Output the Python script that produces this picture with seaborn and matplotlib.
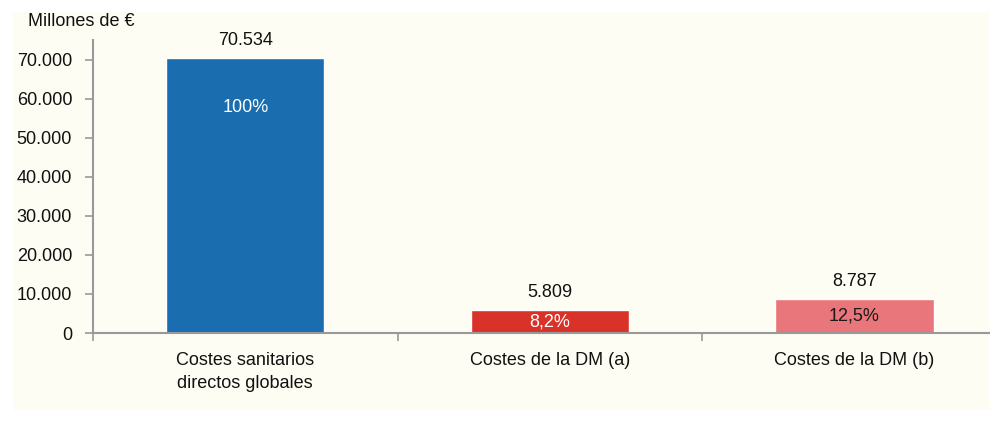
import pandas as pd
import seaborn as sns
import matplotlib.pyplot as plt
from matplotlib.patches import Rectangle

categories = ['Costes sanitarios\ndirectos globales', 'Costes de la DM (a)', 'Costes de la DM (b)']
values = [70534, 5809, 8787]
value_labels = ['70.534', '5.809', '8.787']
pct_labels = ['100%', '8,2%', '12,5%']
pct_colors = ['white', 'white', '#1a1a1a']
bar_colors = ['#1A6DAF', '#D93228', '#E8767A']
yticks = [0, 10000, 20000, 30000, 40000, 50000, 60000, 70000]
ytick_labels = ['0', '10.000', '20.000', '30.000', '40.000', '50.000', '60.000', '70.000']

bg = '#FEFDF3'
fs = 13
sns.set_style('white')
plt.rcParams['font.family'] = ['Liberation Sans', 'DejaVu Sans']

df = pd.DataFrame({'cat': categories, 'value': values})

fig = plt.figure(figsize=(9.9, 4.22), dpi=100)
fig.patch.set_facecolor('white')
fig.patches.append(Rectangle((13 / 990, 12 / 422), 977 / 990, 398 / 422,
                             transform=fig.transFigure, facecolor=bg,
                             edgecolor='none', zorder=-10))
ax = fig.add_axes([93 / 990, (422 - 333) / 422, 897 / 990, 293 / 422])
ax.set_facecolor(bg)

sns.barplot(data=df, x='cat', y='value', hue='cat', palette=bar_colors,
            legend=False, width=0.52, saturation=1, ax=ax)

ax.set_xlim(-0.5, 2.445)
ax.set_ylim(0, 75100)
ax.set_yticks(yticks)
ax.set_yticklabels(ytick_labels, fontsize=fs, color='#111111')
ax.set_xticks([0, 1, 2])
ax.set_xticklabels(categories, fontsize=fs, color='#111111', linespacing=1.4)
ax.tick_params(axis='x', length=0, pad=14)
ax.tick_params(axis='y', length=6, width=1.2, color='#999999', pad=9, left=True)
# category separator ticks on the x axis
ax.set_xticks([-0.5, 0.5, 1.5], minor=True)
ax.tick_params(axis='x', which='minor', length=6, width=1.2, color='#999999', bottom=True)
ax.set_xlabel('')
ax.set_ylabel('')

for s in ['top', 'right']:
    ax.spines[s].set_visible(False)
for s in ['left', 'bottom']:
    ax.spines[s].set_color('#999999')
    ax.spines[s].set_linewidth(1.5)

for i, (v, vl, pl, pc) in enumerate(zip(values, value_labels, pct_labels, pct_colors)):
    ax.text(i, v + 2300, vl, ha='center', va='bottom', fontsize=fs, color='#111111')
    if i == 0:
        ax.text(i, v - 12800, pl, ha='center', va='center', fontsize=fs, color=pc)
    else:
        ax.text(i, v / 2, pl, ha='center', va='center', fontsize=fs, color=pc)

fig.text(28 / 990, 1 - 22 / 422, 'Millones de €', fontsize=fs, color='#111111',
         ha='left', va='center')

fig.savefig('out.png', dpi=100, facecolor='white')
